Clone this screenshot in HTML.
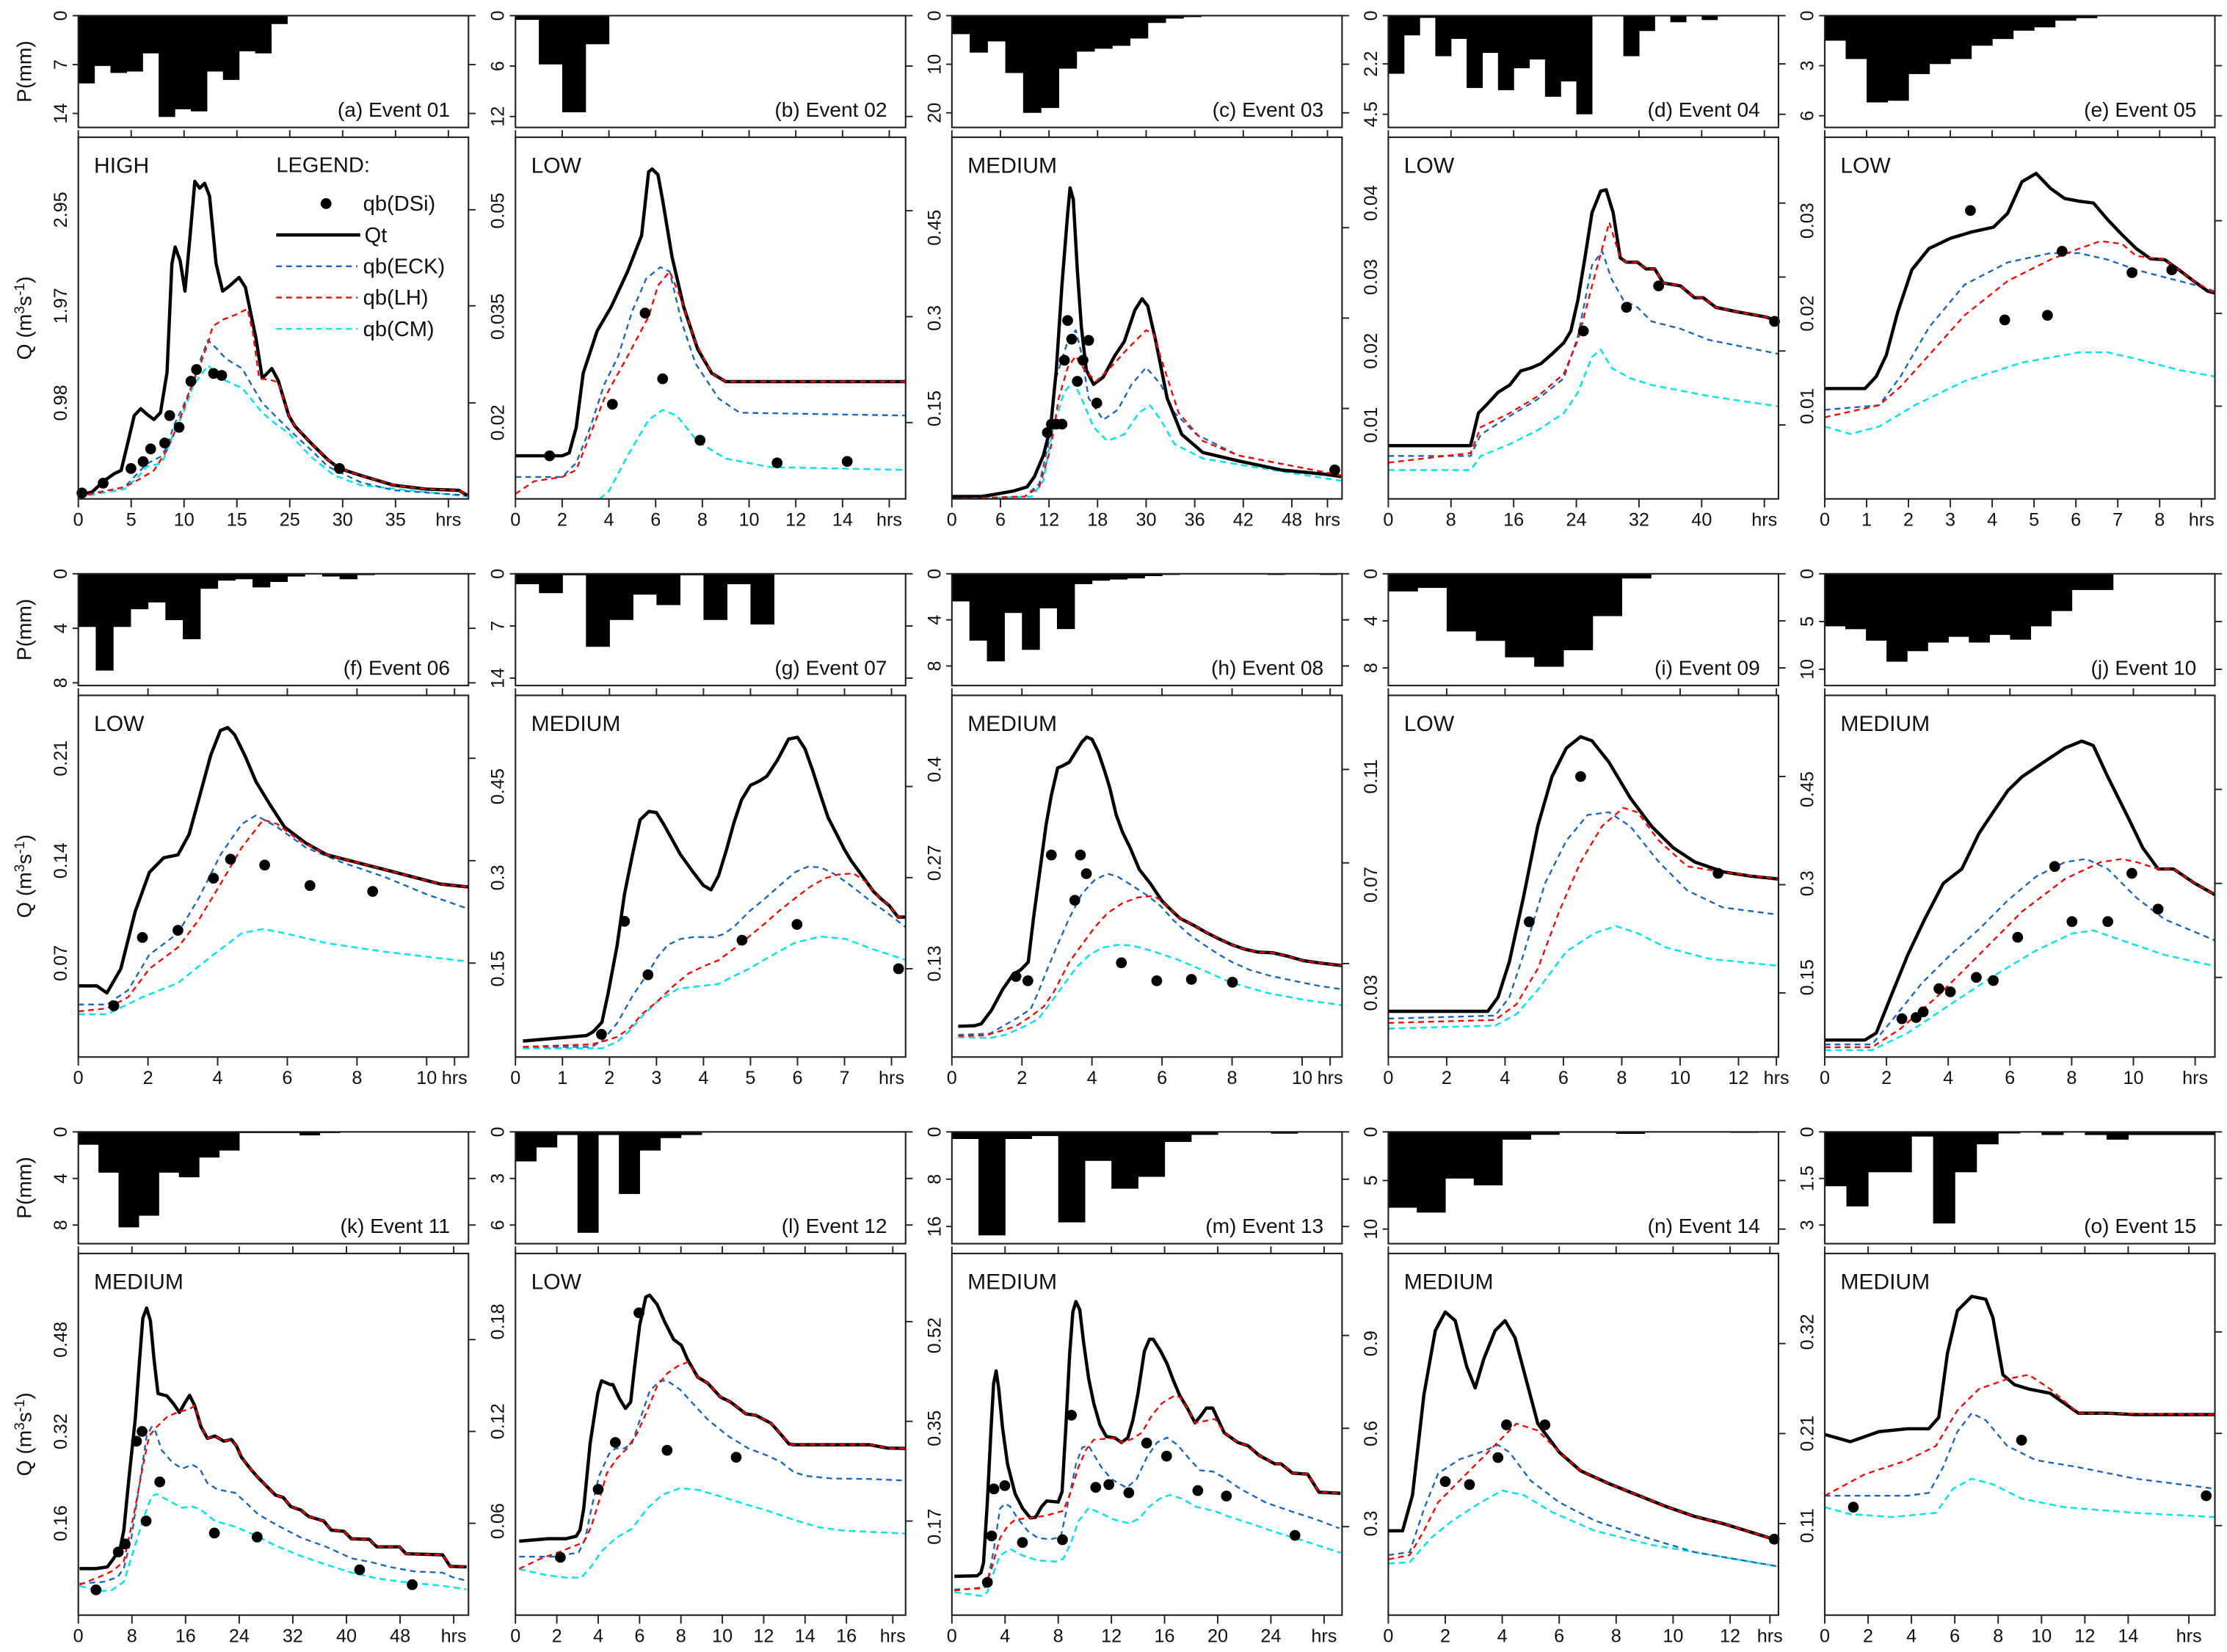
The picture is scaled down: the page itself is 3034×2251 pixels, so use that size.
<!DOCTYPE html>
<html><head><meta charset="utf-8"><style>
html,body{margin:0;padding:0;background:#fff;}
svg{display:block;}
text{font-family:"Liberation Sans",sans-serif;fill:#111;}
</style></head><body>
<svg id="chart" width="3034" height="2251" viewBox="0 0 1564 1160.3" preserveAspectRatio="none" xmlns="http://www.w3.org/2000/svg"></svg>
<script>
// ---------- data: precipitation bars (mm, equal-width bars from t=0) ----------
const pA=[9.7,7.2,8.2,8.0,5.4,14.5,13.4,13.7,8.0,9.2,5.1,5.4,1.2];
const pB=[0.5,5.8,11.5,3.4];
const pC=[3.8,7.6,5.3,11.8,20,19,10.9,7.4,6.8,6.2,4.7,1.5,0.6,0.3];
const pD=[2.65,0.9,0.1,1.85,1.06,3.3,1.7,3.4,2.4,2.0,3.7,3.0,4.5,0,0,1.85,0.7,0,0.3,0,0.2];
const pE=[1.5,2.6,5.2,5.1,3.5,2.9,2.6,1.8,1.4,0.9,0.7,0.3,0.15];
const pF=[3.9,7.1,3.9,2.6,2.1,3.4,4.8,1.1,0.5,0.4,1.0,0.6,0.2,0,0.2,0.4,0.1];
const pG=[1.4,2.6,0.2,9.8,6.2,2.8,4.2,0.2,6.2,1.4,6.8];
const pH=[2.4,5.8,7.6,3.4,6.6,3.0,4.8,0.9,0.6,0.5,0.4,0.2,0.1,0,0,0,0,0,0.1,0,0,0.1];
const pI=[1.5,1.2,4.9,5.7,7.1,7.9,6.5,3.6,0.4];
const pJ=[5.5,5.8,7.0,9.2,8.1,7.2,6.6,7.2,6.4,6.9,5.5,3.9,1.7,1.7];
const pK=[1.1,3.5,8.2,7.2,3.5,3.9,2.2,1.6,0.1,0.1,0.1,0.3,0.1];
const pL=[1.9,1.0,0.2,6.5,0.2,4.0,1.2,0.4,0.2];
const pM=[1.2,17.5,1.2,0.7,15.3,4.9,9.6,7.6,1.7,0.5,0,0,0.3];
const pN=[7.8,8.3,4.8,5.5,0.8,0.3,0.1,0.1,0.2,0,0,0,0.1];
const pO=[1.75,2.4,1.3,1.3,0.15,2.95,1.3,0.4,0.05,0,0.1,0,0.1,0.25,0.1,0.1,0.1,0.1];

// ---------- data: discharge series [t, Q] ----------
const qtA=[[0,.035],[1.3,.07],[2.5,.19],[3.44,.26],[4.05,.29],[4.83,.64],[5.29,.85],[5.91,.92],[6.53,.86],[7.15,.81],[7.77,.88],[8.39,1.29],[8.85,2.4],[9.16,2.57],[9.63,2.43],[10.09,2.12],[10.56,2.67],[11.02,3.24],[11.48,3.17],[11.95,3.22],[12.41,3.09],[13.03,2.4],[13.65,2.12],[14.27,2.17],[15.2,2.26],[15.8,2.16],[16.8,1.64],[17.4,1.23],[18.3,1.33],[18.9,1.21],[19.9,.85],[20.5,.74],[22,.57],[23.6,.4],[24.7,.31],[26.7,.24],[29.8,.14],[32.9,.1],[36,.087],[36.8,.035]];
const eckA=[[0,.025],[4.36,.12],[5.6,.26],[6.5,.36],[7.77,.43],[8.39,.53],[9.0,.74],[9.94,.95],[10.87,1.19],[11.48,1.4],[12.26,1.62],[13.03,1.54],[13.96,1.43],[15.5,1.33],[16.4,1.16],[17.4,.98],[18.6,.85],[19.9,.71],[22,.5],[23.6,.33],[26.7,.17],[29.8,.088],[36.8,.035]];
const lhA=[[0,.025],[4.36,.12],[5.6,.19],[7.15,.29],[8.4,.5],[9.5,.78],[10.6,1.12],[11.5,1.36],[12.3,1.6],[12.7,1.76],[13.7,1.83],[14.9,1.88],[16.0,1.94],[16.5,1.7],[17.1,1.23],[18.3,1.21],[18.9,1.19],[19.9,.85],[20.5,.74],[22,.57],[23.6,.4],[24.7,.31],[26.7,.24],[29.8,.14],[32.9,.1],[36,.087],[36.8,.035]];
const cmA=[[0,.018],[4.36,.1],[5.6,.22],[6.5,.33],[7.77,.36],[8.08,.41],[9.0,.67],[9.94,.88],[10.87,1.16],[12.26,1.36],[13.65,1.22],[15.5,1.13],[17.4,.88],[18.6,.77],[19.9,.67],[22,.43],[24.2,.24],[26.7,.14],[36.8,.025]];
const dsiA=[[.34,.06],[2.35,.16],[4.98,.31],[6.13,.38],[6.84,.51],[8.17,.57],[8.64,.85],[9.53,.73],[10.65,1.2],[11.18,1.32],[12.79,1.28],[13.56,1.26],[24.7,.31]];

const qtB=[[0,.0153],[1.1,.0153],[2,.0153],[2.3,.0157],[2.6,.0193],[2.9,.027],[3.5,.033],[4.1,.0364],[4.8,.0414],[5.4,.0465],[5.7,.0555],[5.85,.0559],[6.1,.0551],[6.3,.0515],[6.7,.0435],[7.2,.0364],[7.8,.0304],[8.4,.027],[9,.0258],[16.7,.0258]];
const eckB=[[0,.0123],[2,.0123],[2.6,.0143],[3.2,.0193],[3.8,.0254],[4.4,.0294],[5,.0358],[5.6,.0404],[6.2,.042],[6.6,.0414],[7.1,.0344],[7.7,.0284],[8.7,.0234],[9.6,.0214],[16.7,.021]];
const lhB=[[0,.0099],[.8,.0117],[2,.0123],[2.6,.0133],[3.2,.0183],[3.8,.0234],[4.8,.0294],[5.7,.035],[6.1,.0394],[6.6,.0414],[7.1,.0374],[7.7,.0314],[8.4,.027],[9,.0258],[16.7,.0258]];
const cmB=[[3.6,.0092],[4.0,.0103],[4.8,.0153],[5.7,.0204],[6.3,.0218],[6.9,.021],[7.8,.0173],[9,.0149],[10.9,.0137],[16.7,.0133]];
const dsiB=[[1.46,.0153],[4.15,.0226],[5.55,.0355],[6.3,.0262],[7.9,.0175],[11.2,.0143],[14.2,.0145]];

const qtC=[[0,.004],[3.7,.004],[5.5,.008],[7.6,.013],[9.3,.02],[10.2,.037],[11.3,.072],[12.2,.119],[12.9,.214],[13.6,.355],[14.3,.473],[14.6,.516],[15,.497],[15.5,.379],[16,.285],[16.6,.214],[17.5,.19],[18.7,.202],[20.1,.237],[21.3,.261],[22.6,.313],[23.5,.332],[24.2,.32],[25.2,.261],[26.6,.167],[28.4,.107],[31,.077],[35.4,.063],[40.7,.048],[46,.041],[48.1,.037]];
const eckC=[[0,0],[9,.004],[10.8,.025],[12,.096],[12.9,.202],[14.3,.261],[15.3,.28],[16,.242],[16.9,.167],[18.7,.131],[20.5,.148],[22.2,.19],[24,.218],[25.8,.19],[27.5,.143],[30.2,.107],[35.4,.072],[48.1,.039]];
const lhC=[[0,0],[9,.004],[10.8,.02],[12.2,.084],[13.2,.167],[14.3,.218],[15.3,.237],[16.4,.214],[17.8,.195],[19.6,.218],[21.7,.249],[24,.28],[24.9,.273],[26.3,.214],[28,.143],[31,.096],[35.4,.072],[48.1,.039]];
const cmC=[[0,0],[9.9,.004],[11.3,.03],[12.5,.119],[13.9,.178],[15,.195],[16,.167],[17.5,.119],[19.2,.096],[21.3,.107],[23.1,.143],[24.5,.155],[25.8,.131],[27.5,.091],[31,.067],[37.2,.053],[48.1,.03]];
const dsiC=[[11.8,.11],[12.3,.124],[12.9,.124],[13.6,.124],[13.9,.23],[14.3,.296],[14.8,.265],[15.5,.195],[16.2,.23],[16.9,.263],[17.9,.159],[47.3,.048]];

const qtD=[[0,.0072],[10.5,.0072],[11.5,.0116],[12.7,.0129],[14,.0144],[15.5,.0154],[16.9,.0173],[18.2,.0177],[19.5,.0183],[20.9,.0196],[22.4,.0211],[23.3,.0227],[24.2,.0269],[25.1,.0326],[26,.0387],[27.1,.0416],[27.8,.0418],[28.7,.0387],[29.6,.0326],[30.4,.032],[31.8,.032],[32.9,.0311],[34,.0311],[35.1,.0292],[37.3,.0288],[39.1,.0272],[40.2,.0272],[41.8,.0259],[44.5,.0253],[48.2,.0246],[49.8,.024]];
const eckD=[[0,.0058],[10.5,.0058],[11.8,.0087],[15.5,.0112],[19.1,.0135],[22.4,.0163],[24.2,.022],[26,.0316],[27.3,.0335],[28.5,.0297],[30,.0269],[31.8,.0259],[33.6,.024],[37.3,.023],[40.9,.0215],[49.8,.0196]];
const lhD=[[0,.0049],[10.5,.0062],[11.8,.0097],[15.5,.0116],[19.1,.0139],[22.4,.0169],[24.2,.0215],[26,.0288],[28.2,.0374],[29.6,.0326],[30.4,.032],[31.8,.032],[32.9,.0311],[34,.0311],[35.1,.0292],[37.3,.0288],[39.1,.0272],[40.2,.0272],[41.8,.0259],[44.5,.0253],[48.2,.0246],[49.8,.024]];
const cmD=[[0,.0039],[10.5,.0039],[11.8,.0058],[15.5,.0074],[19.1,.0093],[22.4,.0116],[24.2,.0144],[26,.0192],[27.1,.0202],[28.5,.0177],[30.9,.0163],[33.6,.0154],[40.9,.0139],[49.8,.0125]];
const dsiD=[[24.9,.0227],[30.4,.0259],[34.5,.0288],[49.3,.024]];

const qtE=[[0,.0119],[.96,.0119],[1.23,.0132],[1.47,.0155],[1.74,.0201],[2.08,.0247],[2.49,.027],[3,.0281],[3.52,.0288],[4.03,.0293],[4.37,.0308],[4.71,.0342],[5.05,.0351],[5.39,.0335],[5.73,.0324],[6.08,.0321],[6.42,.0319],[6.76,.0301],[7.1,.0285],[7.44,.027],[7.78,.0259],[8.12,.0258],[8.46,.0247],[8.81,.0235],[9.15,.0224],[9.32,.0222]];
const eckE=[[0,.0096],[1.3,.0101],[1.81,.0132],[2.49,.0185],[3.34,.0231],[4.37,.0255],[5.39,.0265],[6.08,.0265],[6.76,.0258],[7.44,.0247],[8.12,.0239],[8.81,.0231],[9.32,.0224]];
const lhE=[[0,.0088],[1.3,.0101],[1.81,.0121],[2.49,.0155],[3.34,.0198],[4.37,.0235],[5.39,.0258],[6.08,.027],[6.59,.0278],[7.1,.0275],[7.44,.0262],[8.12,.0258],[8.46,.0247],[8.81,.0235],[9.32,.0222]];
const cmE=[[0,.0078],[.61,.007],[1.3,.0078],[2.15,.0101],[3.34,.0127],[4.71,.0147],[6.08,.0158],[6.76,.0158],[7.44,.0151],[8.46,.0139],[9.32,.0132]];
const dsiE=[[3.48,.0311],[4.3,.0193],[5.32,.0198],[5.67,.0267],[7.34,.0244],[8.29,.0247]];

const qtF=[[0,.0544],[.53,.0544],[.82,.0496],[1.22,.0661],[1.63,.105],[2.04,.132],[2.45,.142],[2.86,.144],[3.18,.158],[3.47,.183],[3.8,.212],[4.08,.229],[4.29,.231],[4.49,.226],[4.78,.212],[5.1,.194],[5.51,.178],[5.92,.163],[6.53,.152],[7.14,.144],[7.96,.139],[8.78,.134],[9.59,.129],[10.4,.124],[11.2,.122]];
const eckF=[[0,.0417],[.82,.0417],[1.43,.0515],[2.04,.0758],[2.86,.0904],[3.47,.115],[4.08,.144],[4.69,.165],[5.1,.171],[5.71,.163],[6.53,.149],[7.55,.139],[8.78,.129],[10,.117],[11.2,.107]];
const lhF=[[0,.037],[.82,.039],[1.43,.0467],[2.04,.0661],[2.86,.0807],[3.47,.1],[4.08,.124],[4.69,.149],[5.31,.168],[5.71,.165],[6.33,.154],[7.14,.144],[7.96,.139],[8.78,.134],[9.59,.129],[10.4,.124],[11.2,.122]];
const cmF=[[0,.035],[.82,.035],[1.84,.0467],[2.86,.0564],[3.88,.0758],[4.69,.0904],[5.31,.0933],[5.92,.0904],[7.14,.0836],[8.78,.0778],[11.2,.071]];
const dsiF=[[1.02,.0408],[1.84,.0875],[2.86,.0924],[3.88,.128],[4.37,.141],[5.35,.137],[6.65,.123],[8.45,.119]];

const qtG=[[.16,.031],[1.51,.04],[1.65,.046],[1.84,.062],[1.97,.109],[2.16,.187],[2.32,.273],[2.49,.338],[2.65,.395],[2.84,.409],[3.0,.407],[3.16,.387],[3.51,.338],[3.78,.309],[4.0,.287],[4.16,.28],[4.32,.303],[4.49,.346],[4.65,.391],[4.81,.428],[5.0,.452],[5.19,.459],[5.35,.467],[5.57,.493],[5.81,.528],[6.0,.531],[6.16,.512],[6.32,.477],[6.49,.436],[6.65,.399],[6.81,.375],[7.0,.346],[7.14,.328],[7.3,.311],[7.62,.277],[7.78,.265],[7.95,.254],[8.14,.235],[8.32,.235]];
const eckG=[[.16,.0214],[1.62,.0214],[1.84,.031],[2.16,.06],[2.49,.105],[2.81,.142],[3.03,.17],[3.24,.189],[3.51,.199],[3.78,.202],[4.22,.202],[4.43,.207],[4.65,.219],[4.97,.244],[5.3,.265],[5.62,.287],[5.95,.309],[6.22,.318],[6.49,.317],[6.76,.307],[7.03,.293],[7.3,.277],[7.57,.26],[7.84,.246],[8.11,.23],[8.32,.217]];
const lhG=[[.16,.0214],[1.62,.0255],[1.89,.031],[2.16,.0377],[2.43,.052],[2.7,.076],[3.03,.097],[3.35,.121],[3.68,.142],[4.0,.154],[4.32,.164],[4.65,.183],[4.97,.203],[5.3,.224],[5.62,.246],[5.95,.266],[6.27,.285],[6.59,.299],[6.86,.305],[7.19,.307],[7.46,.293],[7.62,.277],[7.78,.265],[7.95,.254],[8.14,.235],[8.32,.235]];
const cmG=[[.16,.019],[1.84,.019],[2.16,.0295],[2.43,.048],[2.7,.072],[3.03,.097],[3.46,.117],[3.89,.121],[4.32,.125],[4.65,.138],[4.97,.15],[5.41,.17],[5.95,.193],[6.49,.203],[7.03,.199],[7.57,.183],[8.32,.164]];
const dsiG=[[1.83,.042],[2.32,.228],[2.82,.14],[4.82,.197],[5.99,.223],[8.15,.15]];

const qtH=[[.18,.0427],[.65,.0435],[.84,.0462],[1.13,.065],[1.45,.094],[1.75,.115],[1.96,.121],[2.18,.132],[2.33,.193],[2.51,.258],[2.69,.323],[2.84,.364],[3.02,.402],[3.16,.405],[3.35,.41],[3.53,.424],[3.71,.438],[3.85,.445],[4.0,.442],[4.18,.424],[4.36,.398],[4.51,.374],[4.69,.337],[4.87,.313],[5.09,.291],[5.35,.261],[5.67,.241],[6.0,.217],[6.25,.205],[6.51,.193],[6.91,.183],[7.27,.173],[7.64,.164],[8.0,.156],[8.36,.15],[8.73,.146],[9.16,.145],[9.6,.14],[10.04,.134],[10.47,.131],[11.16,.127]];
const eckH=[[.18,.0308],[1.09,.0326],[1.45,.0427],[1.82,.053],[2.25,.0666],[2.47,.0906],[2.69,.118],[2.98,.152],[3.35,.193],[3.71,.227],[4.07,.246],[4.44,.255],[4.73,.251],[5.16,.238],[5.6,.224],[5.96,.21],[6.33,.19],[6.76,.171],[7.2,.156],[7.64,.142],[8.0,.132],[8.51,.121],[9.09,.113],[9.75,.106],[10.47,.099],[11.16,.094]];
const lhH=[[.18,.0292],[.95,.0299],[1.38,.036],[1.82,.0427],[2.25,.0565],[2.62,.07],[2.91,.0906],[3.35,.132],[3.71,.156],[4.07,.18],[4.44,.2],[4.87,.214],[5.31,.222],[5.75,.224],[6.0,.217],[6.25,.205],[6.51,.193],[6.91,.183],[7.27,.173],[7.64,.164],[8.0,.156],[8.36,.15],[8.73,.146],[9.16,.145],[9.6,.14],[10.04,.134],[10.47,.131],[11.16,.127]];
const cmH=[[.18,.0274],[1.09,.0264],[1.53,.0308],[2.11,.0435],[2.47,.053],[2.84,.0768],[3.2,.101],[3.56,.125],[3.93,.142],[4.29,.152],[4.73,.156],[5.16,.155],[5.75,.147],[6.47,.135],[7.2,.12],[8.0,.103],[9.02,.089],[10.11,.079],[11.16,.072]];
const dsiH=[[1.83,.112],[2.17,.106],[2.84,.281],[3.51,.218],[3.67,.281],[3.84,.255],[4.84,.131],[5.85,.106],[6.84,.108],[8.01,.104]];

const qtI=[[0,.0232],[3.41,.0232],[3.76,.0284],[4.15,.0416],[4.63,.0653],[5.12,.0916],[5.61,.11],[6.1,.1205],[6.59,.1247],[6.98,.1232],[7.56,.1153],[8.29,.1021],[9.02,.0916],[9.76,.0837],[10.5,.0784],[11.5,.0747],[12.4,.0732],[13.37,.0721]];
const eckI=[[0,.0205],[3.66,.0216],[4.15,.0284],[4.63,.0442],[5.37,.0705],[6.1,.0863],[6.83,.0958],[7.56,.0968],[8.29,.0916],[9.27,.0784],[10.24,.0679],[11.46,.0616],[13.37,.0589]];
const lhI=[[0,.0189],[3.66,.02],[4.39,.0258],[5.12,.0389],[5.85,.06],[6.59,.0784],[7.32,.0916],[8.05,.0984],[8.54,.0968],[9.27,.0863],[10.24,.0768],[11.46,.0747],[13.37,.0721]];
const cmI=[[0,.0168],[3.66,.0179],[4.39,.0221],[5.12,.0311],[6.1,.0453],[7.07,.0521],[7.8,.0547],[8.54,.0521],[9.51,.0468],[11,.0426],[13.37,.04]];
const dsiI=[[4.83,.0563],[6.59,.11],[11.3,.0742]];

const qtJ=[[0,.05],[1.3,.05],[1.67,.0614],[2.13,.118],[2.69,.186],[3.24,.243],[3.84,.3],[4.44,.323],[5,.38],[5.46,.414],[5.93,.448],[6.39,.47],[7.08,.493],[7.78,.516],[8.33,.527],[8.7,.52],[9.17,.47],[9.86,.402],[10.3,.357],[10.8,.323],[11.3,.323],[11.99,.3],[12.64,.282]];
const eckJ=[[0,.043],[1.53,.043],[2.22,.084],[3.15,.141],[4.07,.186],[5,.227],[5.93,.273],[6.85,.311],[7.78,.334],[8.47,.339],[9.17,.323],[10.1,.277],[11,.243],[12.64,.209]];
const lhJ=[[0,.0386],[1.53,.0386],[2.45,.068],[3.61,.118],[5,.186],[6.39,.255],[7.78,.307],[8.94,.334],[9.63,.339],[10.1,.334],[10.8,.323],[11.3,.323],[11.99,.3],[12.64,.282]];
const cmJ=[[0,.034],[1.53,.034],[2.69,.0614],[4.07,.107],[5.46,.152],[6.85,.193],[8.01,.22],[8.7,.225],[9.63,.209],[11,.186],[12.64,.168]];
const dsiJ=[[2.5,.084],[2.96,.086],[3.19,.095],[3.7,.132],[4.07,.127],[4.91,.15],[5.46,.145],[6.25,.214],[7.45,.327],[8.01,.239],[9.17,.239],[9.95,.316],[10.8,.259]];

const qtK=[[.19,.081],[2.64,.081],[4.34,.084],[5.28,.099],[6.23,.115],[6.79,.148],[7.55,.238],[8.49,.341],[9.13,.443],[9.62,.517],[10.19,.535],[10.75,.513],[11.32,.443],[11.89,.386],[13.21,.382],[14.15,.369],[15.09,.353],[15.85,.369],[16.6,.383],[17.36,.365],[18.3,.328],[19.25,.308],[20.38,.312],[21.7,.303],[22.83,.306],[23.58,.295],[24.34,.275],[25.66,.255],[26.79,.24],[28.3,.222],[29.43,.209],[30.57,.205],[31.7,.189],[33.21,.183],[34.34,.172],[36.6,.164],[37.74,.148],[39.62,.146],[40.75,.133],[43.4,.132],[44.53,.119],[47.92,.119],[48.87,.107],[54.34,.105],[55.47,.085],[57.92,.084]];
const eckK=[[.19,.055],[3.77,.058],[5.85,.066],[6.79,.082],[7.92,.135],[9.25,.238],[10.19,.312],[10.94,.328],[11.51,.32],[12.45,.287],[13.96,.267],[15.47,.255],[16.98,.262],[18.11,.255],[19.25,.23],[20.75,.219],[23.4,.213],[24.91,.197],[26.79,.176],[29.43,.158],[33.21,.135],[36.98,.119],[40.75,.099],[43.77,.092],[46.42,.084],[50.19,.076],[54.34,.074],[55.85,.066],[57.92,.06]];
const lhK=[[.19,.053],[3.02,.066],[5.28,.078],[6.79,.094],[8.3,.176],[9.62,.259],[10.57,.312],[11.7,.328],[13.21,.345],[14.72,.353],[16.6,.359],[17.36,.365],[18.3,.328],[19.25,.308],[20.38,.312],[21.7,.303],[22.83,.306],[23.58,.295],[24.34,.275],[25.66,.255],[26.79,.24],[28.3,.222],[29.43,.209],[30.57,.205],[31.7,.189],[33.21,.183],[34.34,.172],[36.6,.164],[37.74,.148],[39.62,.146],[40.75,.133],[43.4,.132],[44.53,.119],[47.92,.119],[48.87,.107],[54.34,.105],[55.47,.085],[57.92,.084]];
const cmK=[[.19,.051],[3.02,.042],[4.91,.043],[6.79,.058],[8.3,.115],[9.81,.172],[10.94,.207],[11.7,.211],[13.21,.201],[15.47,.187],[16.98,.189],[18.11,.185],[20.38,.164],[23.4,.154],[26.42,.139],[29.43,.121],[33.21,.103],[36.98,.088],[40.75,.074],[44.53,.064],[48.3,.058],[54.34,.051],[57.92,.045]];
const dsiK=[[2.64,.044],[5.96,.11],[6.98,.124],[8.68,.303],[9.51,.32],[10.11,.164],[12.15,.232],[20.3,.143],[26.68,.136],[41.96,.079],[49.81,.053]];

const qtL=[[.18,.0479],[1.59,.0494],[2.45,.0494],[2.94,.0509],[3.12,.0547],[3.3,.0675],[3.61,.1067],[3.98,.1368],[4.16,.1444],[4.59,.1421],[4.71,.1421],[5.02,.1338],[5.32,.1278],[5.57,.1316],[5.75,.1519],[6.0,.1775],[6.3,.1948],[6.49,.1959],[6.85,.1903],[7.22,.1797],[7.65,.1692],[8.02,.1658],[8.32,.1572],[8.81,.1466],[9.3,.1429],[9.91,.1346],[10.4,.1316],[11.14,.1245],[11.63,.1236],[12.36,.1188],[12.85,.1119],[13.22,.1064],[13.46,.1059],[17.14,.1059],[17.99,.1039],[18.85,.1037]];
const eckL=[[.18,.0386],[1.84,.0386],[3.06,.0411],[3.37,.0494],[3.67,.0675],[4.04,.0871],[4.53,.1006],[4.83,.1037],[5.26,.1037],[5.63,.1067],[6.0,.1203],[6.49,.1383],[6.98,.1444],[7.34,.1444],[7.96,.1391],[8.57,.1308],[9.3,.121],[10.28,.1112],[11.26,.1037],[12.24,.0991],[12.85,.0954],[13.46,.0894],[14.08,.0871],[15.3,.0856],[17.14,.0853],[18.85,.0844]];
const lhL=[[.18,.0313],[1.22,.0374],[2.2,.0418],[3.3,.0472],[3.67,.0569],[4.04,.072],[4.41,.0886],[4.9,.0976],[5.39,.1037],[5.88,.1127],[6.36,.1262],[6.85,.1413],[7.34,.1489],[7.83,.1531],[8.32,.1556],[8.81,.1466],[9.3,.1429],[9.91,.1346],[10.4,.1316],[11.14,.1245],[11.63,.1236],[12.36,.1188],[12.85,.1119],[13.22,.1064],[13.46,.1059],[17.14,.1059],[17.99,.1039],[18.85,.1037]];
const cmL=[[.18,.0311],[1.47,.0275],[2.45,.026],[3.18,.026],[3.67,.0328],[4.16,.0418],[4.9,.0502],[5.63,.0554],[6.36,.0675],[7.1,.0758],[7.96,.0798],[8.81,.0788],[9.79,.0753],[11.02,.0705],[12.24,.066],[13.46,.0607],[14.69,.0562],[15.91,.0542],[18.85,.0525]];
const dsiL=[[2.17,.0382],[4.0,.0791],[4.83,.1073],[5.97,.1853],[7.33,.1026],[10.67,.0984]];

const qtM=[[.19,.079],[1.9,.08],[2.19,.086],[2.38,.104],[2.67,.216],[2.95,.351],[3.14,.432],[3.33,.455],[3.52,.423],[3.81,.351],[4.19,.284],[4.76,.23],[5.33,.203],[5.9,.186],[6.29,.187],[6.76,.207],[7.14,.217],[8.0,.215],[8.29,.234],[8.57,.351],[8.86,.486],[9.1,.563],[9.33,.582],[9.62,.567],[9.9,.509],[10.29,.441],[10.67,.396],[11.14,.356],[11.62,.335],[12.29,.332],[12.76,.324],[13.24,.333],[13.62,.365],[14.0,.414],[14.48,.491],[14.86,.513],[15.14,.513],[15.71,.491],[16.19,.468],[16.67,.437],[17.14,.41],[17.71,.387],[18.29,.36],[18.76,.374],[19.14,.387],[19.62,.387],[20.0,.367],[20.48,.342],[21.52,.324],[22.29,.318],[23.14,.3],[24.29,.285],[24.76,.285],[25.62,.268],[26.76,.266],[27.62,.233],[29.24,.231]];
const eckM=[[.19,.055],[2.29,.057],[2.67,.068],[3.14,.126],[3.62,.203],[4.0,.212],[4.38,.207],[4.95,.185],[5.71,.162],[6.48,.149],[7.43,.147],[8.19,.151],[8.76,.216],[9.33,.284],[9.81,.315],[10.29,.318],[11.24,.279],[12.0,.257],[13.14,.241],[13.9,.257],[14.67,.297],[15.43,.324],[16.19,.333],[16.95,.32],[17.9,.293],[18.67,.273],[19.62,.271],[20.38,.261],[21.71,.239],[23.62,.214],[25.52,.198],[27.43,.183],[29.14,.167]];
const lhM=[[.19,.053],[2.48,.059],[2.95,.09],[3.62,.149],[4.19,.171],[4.76,.183],[5.9,.186],[7.05,.19],[8.38,.199],[8.95,.234],[9.52,.279],[10.1,.311],[10.67,.329],[11.62,.331],[12.29,.332],[12.76,.324],[13.52,.33],[14.29,.342],[15.05,.374],[15.81,.396],[16.76,.41],[17.14,.407],[17.71,.387],[18.29,.36],[19.81,.367],[20.48,.342],[21.52,.324],[22.29,.318],[23.14,.3],[24.29,.285],[24.76,.285],[25.62,.268],[26.76,.266],[27.62,.233],[29.24,.231]];
const cmM=[[.19,.05],[2.29,.043],[2.67,.05],[3.14,.086],[3.62,.117],[4.38,.129],[5.33,.117],[6.48,.108],[7.81,.106],[8.38,.111],[8.95,.14],[9.52,.18],[10.29,.204],[11.24,.194],[12.19,.183],[13.33,.176],[14.1,.185],[14.86,.207],[15.62,.221],[16.38,.228],[17.33,.221],[18.29,.207],[19.81,.198],[20.76,.189],[22.67,.174],[24.57,.158],[26.48,.144],[29.24,.122]];
const dsiM=[[2.67,.068],[2.99,.153],[3.16,.239],[3.98,.245],[5.31,.141],[8.32,.146],[8.99,.374],[10.82,.242],[11.81,.247],[13.31,.232],[14.65,.323],[16.15,.299],[18.5,.236],[20.65,.226],[25.81,.154]];

const qtN=[[0,.276],[.5,.276],[.85,.395],[1.25,.729],[1.65,.943],[2,1.005],[2.35,.976],[2.75,.824],[3.05,.752],[3.35,.848],[3.75,.943],[4.1,.976],[4.45,.919],[4.85,.776],[5.25,.633],[6,.538],[6.75,.476],[7.75,.433],[8.75,.395],[9.75,.357],[10.75,.324],[11.75,.3],[12.75,.271],[13.7,.243]];
const eckN=[[0,.195],[.75,.205],[1.25,.348],[1.75,.467],[2.5,.514],[3.25,.538],[3.85,.562],[4.25,.538],[5,.443],[6,.371],[7.25,.31],[8.75,.262],[10.75,.205],[13.7,.157]];
const lhN=[[0,.181],[.75,.195],[1.25,.276],[1.75,.371],[2.5,.443],[3.25,.514],[4,.586],[4.5,.633],[5.25,.61],[6,.538],[6.75,.476],[7.75,.433],[8.75,.395],[9.75,.357],[10.75,.324],[11.75,.3],[12.75,.271],[13.7,.243]];
const cmN=[[0,.167],[.75,.171],[1.5,.252],[2.25,.31],[3.25,.371],[4,.41],[4.75,.395],[5.75,.338],[7.25,.276],[9.25,.229],[13.7,.157]];
const dsiN=[[2,.44],[2.85,.43],[3.85,.52],[4.15,.629],[5.5,.629],[13.55,.248]];

const qtO=[[0,.2088],[1.18,.201],[2.5,.2119],[3.82,.215],[4.8,.215],[5.26,.2273],[5.66,.2967],[6.12,.343],[6.78,.3585],[7.43,.3554],[7.76,.3353],[8.22,.2736],[8.75,.2628],[9.41,.2581],[10.4,.2535],[11.7,.2319],[13,.2319],[14.3,.2304],[15.7,.2304],[18,.2304]];
const eckO=[[0,.1424],[1.84,.1424],[3.82,.1424],[4.8,.1455],[5.46,.1733],[6.12,.2119],[6.78,.2319],[7.43,.2242],[8.42,.1964],[9.74,.181],[11.7,.1733],[14.3,.161],[18,.15]];
const lhO=[[0,.1424],[1.84,.1656],[3.82,.181],[5.13,.1964],[6.12,.235],[7.11,.2581],[8.42,.2689],[9.41,.2736],[10.4,.2581],[11.7,.2319],[18,.2304]];
const cmO=[[0,.13],[1.18,.1224],[3.16,.1193],[5.13,.1239],[5.92,.15],[6.78,.1609],[7.76,.1548],[9.08,.1393],[11.05,.13],[14.3,.1239],[18,.1193]];
const dsiO=[[1.32,.13],[9.08,.2026],[17.6,.1424]];

// ---------- tick labels ----------
const xLabA=["0","5","10","15","25","30","35","hrs"];
const xLabB=["0","2","4","6","8","10","12","14","hrs"];
const xLabC=["0","6","12","18","30","36","42","48","hrs"];
const xLabD=["0","8","16","24","32","40","hrs"];
const xLabE=["0","1","2","3","4","5","6","7","8","hrs"];
const xLabF=["0","2","4","6","8","10","hrs"];
const xLabG=["0","1","2","3","4","5","6","7","hrs"];
const xLabH=["0","2","4","6","8","10","hrs"];
const xLabI=["0","2","4","6","8","10","12","hrs"];
const xLabJ=["0","2","4","6","8","10","hrs"];
const xLabK=["0","8","16","24","32","40","48","hrs"];
const xLabL=["0","2","4","6","8","10","12","14","16","hrs"];
const xLabM=["0","4","8","12","16","20","24","hrs"];
const xLabN=["0","2","4","6","8","10","12","hrs"];
const xLabO=["0","2","4","6","8","10","12","14","hrs"];

// ---------- panel layout / axis config ----------
const COLS=[55,362,668.5,975,1281.5], W=274;
const ROWP=[11,403,795], PH=78.5, ROWQ=[96.4,488.4,880.4], QH=254;
const panels=[
 {id:'a',ev:'(a) Event 01',cat:'HIGH',p:pA,bw:1.52,pmax:16,pt:[0,7,14],ptl:['0','7','14'],xmax:36.9,xt:[0,5,10,15,20,25,30,35],xl:xLabA,y0:0,y1:3.69,yt:[.98,1.97,2.95],qt:qtA,eck:eckA,lh:lhA,cm:cmA,dsi:dsiA},
 {id:'b',ev:'(b) Event 02',cat:'LOW',p:pB,bw:1,pmax:13.3,pt:[0,6,12],ptl:['0','6','12'],xmax:16.7,xt:[0,2,4,6,8,10,12,14,16],xl:xLabB,y0:.0092,y1:.0604,yt:[.02,.035,.05],qt:qtB,eck:eckB,lh:lhB,cm:cmB,dsi:dsiB},
 {id:'c',ev:'(c) Event 03',cat:'MEDIUM',p:pC,bw:2.2,pmax:23,pt:[0,10,20],ptl:['0','10','20'],xmax:48.2,xt:[0,6,12,18,24,30,36,42,46.4],xl:xLabC,y0:0,y1:.6,yt:[.15,.3,.45],qt:qtC,eck:eckC,lh:lhC,cm:cmC,dsi:dsiC},
 {id:'d',ev:'(d) Event 04',cat:'LOW',p:pD,bw:2,pmax:5.1,pt:[0,2.2,4.5],ptl:['0','2.2','4.5'],xmax:49.8,xt:[0,8,16,24,32,40,48],xl:xLabD,y0:0,y1:.0489,yt:[.01,.02,.03,.04],qt:qtD,eck:eckD,lh:lhD,cm:cmD,dsi:dsiD},
 {id:'e',ev:'(e) Event 05',cat:'LOW',p:pE,bw:.5,pmax:6.7,pt:[0,3,6],ptl:['0','3','6'],xmax:9.32,xt:[0,1,2,3,4,5,6,7,8,9],xl:xLabE,y0:0,y1:.039,yt:[.01,.02,.03],qt:qtE,eck:eckE,lh:lhE,cm:cmE,dsi:dsiE},
 {id:'f',ev:'(f)  Event 06',cat:'LOW',p:pF,bw:.5,pmax:8.2,pt:[0,4,8],ptl:['0','4','8'],xmax:11.2,xt:[0,2,4,6,8,10,10.8],xl:xLabF,y0:.0058,y1:.253,yt:[.07,.14,.21],qt:qtF,eck:eckF,lh:lhF,cm:cmF,dsi:dsiF},
 {id:'g',ev:'(g)  Event 07',cat:'MEDIUM',p:pG,bw:.5,pmax:15,pt:[0,7,14],ptl:['0','7','14'],xmax:8.3,xt:[0,1,2,3,4,5,6,7,8],xl:xLabG,y0:.0047,y1:.6,yt:[.15,.3,.45],qt:qtG,eck:eckG,lh:lhG,cm:cmG,dsi:dsiG},
 {id:'h',ev:'(h)  Event 08',cat:'MEDIUM',p:pH,bw:.5,pmax:9.7,pt:[0,4,8],ptl:['0','4','8'],xmax:11.14,xt:[0,2,4,6,8,10,10.8],xl:xLabH,y0:0,y1:.503,yt:[.13,.27,.4],qt:qtH,eck:eckH,lh:lhH,cm:cmH,dsi:dsiH},
 {id:'i',ev:'(i)  Event 09',cat:'LOW',p:pI,bw:1,pmax:9.5,pt:[0,4,8],ptl:['0','4','8'],xmax:13.37,xt:[0,2,4,6,8,10,12,13.3],xl:xLabI,y0:.0063,y1:.14,yt:[.03,.07,.11],qt:qtI,eck:eckI,lh:lhI,cm:cmI,dsi:dsiI},
 {id:'j',ev:'(j)  Event 10',cat:'MEDIUM',p:pJ,bw:.667,pmax:11.7,pt:[0,5,10],ptl:['0','5','10'],xmax:12.64,xt:[0,2,4,6,8,10,12],xl:xLabJ,y0:.023,y1:.6,yt:[.15,.3,.45],qt:qtJ,eck:eckJ,lh:lhJ,cm:cmJ,dsi:dsiJ},
 {id:'k',ev:'(k)  Event 11',cat:'MEDIUM',p:pK,bw:3,pmax:9.6,pt:[0,4,8],ptl:['0','4','8'],xmax:58.2,xt:[0,8,16,24,32,40,48,56],xl:xLabK,y0:0,y1:.63,yt:[.16,.32,.48],qt:qtK,eck:eckK,lh:lhK,cm:cmK,dsi:dsiK},
 {id:'l',ev:'(l)  Event 12',cat:'LOW',p:pL,bw:1,pmax:7.2,pt:[0,3,6],ptl:['0','3','6'],xmax:18.86,xt:[0,2,4,6,8,10,12,14,16,18.24],xl:xLabL,y0:.0034,y1:.221,yt:[.06,.12,.18],qt:qtL,eck:eckL,lh:lhL,cm:cmL,dsi:dsiL},
 {id:'m',ev:'(m)  Event 13',cat:'MEDIUM',p:pM,bw:2,pmax:18.9,pt:[0,8,16],ptl:['0','8','16'],xmax:29.35,xt:[0,4,8,12,16,20,24,28],xl:xLabM,y0:.008,y1:.67,yt:[.17,.35,.52],qt:qtM,eck:eckM,lh:lhM,cm:cmM,dsi:dsiM},
 {id:'n',ev:'(n)  Event 14',cat:'MEDIUM',p:pN,bw:1,pmax:11.5,pt:[0,5,10],ptl:['0','5','10'],xmax:13.7,xt:[0,2,4,6,8,10,12,13.4],xl:xLabN,y0:-.005,y1:1.2,yt:[.3,.6,.9],qt:qtN,eck:eckN,lh:lhN,cm:cmN,dsi:dsiN},
 {id:'o',ev:'(o)  Event 15',cat:'MEDIUM',p:pO,bw:1,pmax:3.6,pt:[0,1.5,3],ptl:['0','1.5','3'],xmax:18,xt:[0,2,4,6,8,10,12,14,16.8],xl:xLabO,y0:.013,y1:.405,yt:[.11,.21,.32],qt:qtO,eck:eckO,lh:lhO,cm:cmO,dsi:dsiO}
];

const NS='http://www.w3.org/2000/svg';
const svg=document.getElementById('chart');
function mk(tag,attrs,parent){const e=document.createElementNS(NS,tag);for(const k in attrs)e.setAttribute(k,attrs[k]);(parent||svg).appendChild(e);return e;}
function txt(s,attrs,parent){const e=mk('text',attrs,parent);e.textContent=s;return e;}
function fmt(v){return String(v);}

panels.forEach((P,idx)=>{
  const col=idx%5,row=Math.floor(idx/5);
  const L=COLS[col], pt=ROWP[row], qt=ROWQ[row];
  const g=mk('g',{});
  
  
  const sx=v=>L+v/P.xmax*W;
  const sp=v=>pt+v/P.pmax*PH;
  const sy=v=>qt+QH-(v-P.y0)/(P.y1-P.y0)*QH;

  // precipitation
  const pg=mk('g',{},g);
  
  
  P.p.forEach((v,i)=>{
    if(v<=0)return;
    const r=mk('rect',{x:sx(i*P.bw),y:pt,width:sx((i+1)*P.bw)-sx(i*P.bw)+0.3,height:sp(v)-pt,fill:'#000'},pg);
    
    
  });
  const pbox=mk('rect',{x:L,y:pt,width:W,height:PH,fill:'none',stroke:'#222','stroke-width':1.1},pg);
  
  
  P.pt.forEach((v,i)=>{
    const y=sp(v);
    mk('line',{x1:L+W,x2:L+W+5,y1:y,y2:y,stroke:'#222','stroke-width':1},pg);
    mk('line',{x1:L,x2:L-4,y1:y,y2:y,stroke:'#222','stroke-width':1},pg);
    const t=txt(P.ptl[i],{x:L-8,y:y,transform:`rotate(-90 ${L-8} ${y})`,'text-anchor':'middle','font-size':13},pg);
    
    
  });
  const ev=txt(P.ev,{x:L+W-13,y:pt+71,'text-anchor':'end','font-size':14.5},pg);
  
  

  // discharge
  const qg=mk('g',{},g);
  
  
  const cid='clip'+P.id;
  const cp=mk('clipPath',{id:cid},qg);
  mk('rect',{x:L,y:qt,width:W,height:QH},cp);
  const line=(data,color,w,dash,name)=>{
    const d=data.map((p,i)=>(i?'L':'M')+sx(p[0]).toFixed(2)+' '+sy(p[1]).toFixed(2)).join('');
    const a={d:d,fill:'none',stroke:color,'stroke-width':w,'clip-path':`url(#${cid})`,'stroke-linejoin':'round'};
    if(dash)a['stroke-dasharray']=dash;
    const e=mk('path',a,qg);
    
    
  };
  line(P.cm,'#00e5ee',1.3,'4.5 3','series-qb-cm');
  line(P.eck,'#1565c0',1.2,'4 3','series-qb-eck');
  line(P.qt,'#000',2.3,null,'series-qt');
  line(P.lh,'#ff0000',1.2,'4 3','series-qb-lh');
  P.dsi.forEach(p=>{
    const c=mk('circle',{cx:sx(p[0]),cy:sy(p[1]),r:3.8,fill:'#000'},qg);
    
    
  });
  const qbox=mk('rect',{x:L,y:qt,width:W,height:QH,fill:'none',stroke:'#222','stroke-width':1.1},qg);
  
  
  P.yt.forEach(v=>{
    const y=sy(v);
    mk('line',{x1:L+W,x2:L+W+5,y1:y,y2:y,stroke:'#222','stroke-width':1},qg);
    const t=txt(fmt(v),{x:L-8,y:y,transform:`rotate(-90 ${L-8} ${y})`,'text-anchor':'middle','font-size':13},qg);
    
    
  });
  P.xt.forEach((v,i)=>{
    const x=sx(v);
    mk('line',{x1:x,x2:x,y1:qt+QH,y2:qt+QH+6,stroke:'#222','stroke-width':1},qg);
    mk('line',{x1:x,x2:x,y1:qt,y2:qt-5,stroke:'#222','stroke-width':1},qg);
    const t=txt(P.xl[i],{x:x,y:qt+QH+19,'text-anchor':'middle','font-size':13},qg);
    
    
  });
  const cat=txt(P.cat,{x:L+11,y:qt+25,'font-size':15.5},qg);
  
  
});

// axis titles
[0,1,2].forEach(r=>{
  const py=ROWP[r]+PH/2, qy=ROWQ[r]+QH/2;
  const a=txt('P(mm)',{x:22,y:py,transform:`rotate(-90 22 ${py})`,'text-anchor':'middle','font-size':14.5});
  
  
  const b=mk('text',{x:22,y:qy,transform:`rotate(-90 22 ${qy})`,'text-anchor':'middle','font-size':14.5});
  
  
  b.innerHTML='Q (m<tspan dy="-5" font-size="10">3</tspan><tspan dy="5">s</tspan><tspan dy="-5" font-size="10">-1</tspan><tspan dy="5">)</tspan>';
});

// legend (panel a)
const lg=mk('g',{});


const lt=txt('LEGEND:',{x:194,y:121,'font-size':15},lg);


const legItems=[['qb(DSi)','dot','#000'],['Qt','solid','#000'],['qb(ECK)','dash','#1565c0'],['qb(LH)','dash','#ff0000'],['qb(CM)','dash','#00e5ee']];
legItems.forEach((it,i)=>{
  const y=143+i*22;
  const e=mk('g',{},lg);
  
  
  if(it[1]==='dot')mk('circle',{cx:229,cy:y,r:3.8,fill:'#000'},e);
  else if(it[1]==='solid')mk('line',{x1:194,x2:253,y1:y,y2:y,stroke:'#000','stroke-width':2.3},e);
  else mk('line',{x1:194,x2:251,y1:y,y2:y,stroke:it[2],'stroke-width':1.2,'stroke-dasharray':'4 3'},e);
  txt(it[0],{x:i===1?256:255,y:y+5,'font-size':15},e);
});
</script>
</body></html>
